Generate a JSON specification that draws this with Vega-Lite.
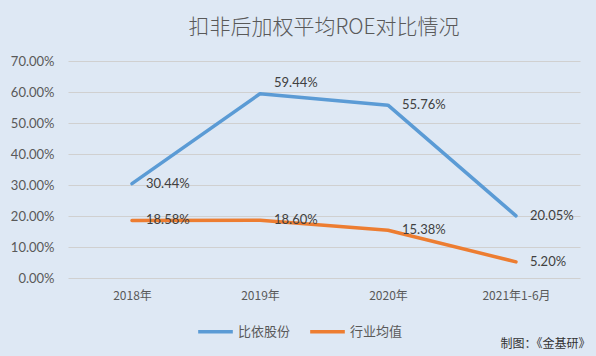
{
  "$schema": "https://vega.github.io/schema/vega-lite/v6.json",
  "autosize": {"type": "none"},
  "width": 512,
  "height": 217,
  "padding": {"left": 68, "top": 61, "right": 16, "bottom": 78},
  "background": "#dee8f4",
  "title": {
    "text": "扣非后加权平均ROE对比情况",
    "font": "Noto Sans CJK SC",
    "fontSize": 21,
    "fontWeight": 300,
    "color": "#595959",
    "anchor": "middle",
    "offset": 17,
    "frame": "group"
  },
  "config": {
    "view": {"stroke": null},
    "font": "Noto Sans CJK SC"
  },
  "data": {
    "values": [
      {"year": "2018年", "series": "比依股份", "roe": 0.3044},
      {"year": "2019年", "series": "比依股份", "roe": 0.5944},
      {"year": "2020年", "series": "比依股份", "roe": 0.5576},
      {"year": "2021年1-6月", "series": "比依股份", "roe": 0.2005},
      {"year": "2018年", "series": "行业均值", "roe": 0.1858},
      {"year": "2019年", "series": "行业均值", "roe": 0.1860},
      {"year": "2020年", "series": "行业均值", "roe": 0.1538},
      {"year": "2021年1-6月", "series": "行业均值", "roe": 0.0520}
    ]
  },
  "encoding": {
    "x": {
      "field": "year",
      "type": "nominal",
      "sort": null,
      "scale": {"paddingInner": 0, "paddingOuter": 0},
      "axis": {
        "title": "制图：《金基研》",
        "titleAnchor": "end",
        "titleAlign": "right",
        "titleFontSize": 12,
        "titleFontWeight": "normal",
        "titleColor": "#333333",
        "titleX": 522,
        "titleY": 60,
        "labelAngle": 0,
        "labelFont": "Noto Sans CJK SC",
        "labelFontSize": 12,
        "labelColor": "#595959",
        "labelPadding": 12,
        "ticks": false,
        "domain": false,
        "grid": false
      }
    },
    "y": {
      "field": "roe",
      "type": "quantitative",
      "scale": {"domain": [0, 0.7]},
      "axis": {
        "title": null,
        "format": ".2%",
        "values": [0, 0.1, 0.2, 0.3, 0.4, 0.5, 0.6, 0.7],
        "labelFont": "Lato",
        "labelFontSize": 13,
        "labelColor": "#595959",
        "labelPadding": 14,
        "ticks": false,
        "domain": false,
        "gridColor": "#d0d0d0",
        "gridWidth": 1
      }
    }
  },
  "layer": [
    {
      "mark": {"type": "line", "interpolate": "linear", "strokeWidth": 3.5, "strokeCap": "round", "strokeJoin": "round"},
      "encoding": {
        "color": {
          "field": "series",
          "type": "nominal",
          "sort": ["比依股份", "行业均值"],
          "scale": {"domain": ["比依股份", "行业均值"], "range": ["#5b9bd5", "#ed7d31"]},
          "legend": {
            "title": null,
            "orient": "none",
            "direction": "horizontal",
            "legendX": 128,
            "legendY": 251,
            "symbolType": "stroke",
            "symbolStrokeWidth": 3.5,
            "symbolSize": 1200,
            "labelFont": "Noto Sans CJK SC",
            "labelFontSize": 13,
            "labelColor": "#595959",
            "labelOffset": 3,
            "columnPadding": 12
          }
        }
      }
    },
    {
      "transform": [{"filter": "datum.roe != 0.5944"}],
      "mark": {"type": "text", "align": "left", "baseline": "middle", "dx": 14, "font": "Lato", "fontSize": 13, "color": "#404040"},
      "encoding": {"text": {"field": "roe", "type": "quantitative", "format": ".2%"}}
    },
    {
      "transform": [{"filter": "datum.roe == 0.5944"}],
      "mark": {"type": "text", "align": "left", "baseline": "middle", "dx": 14, "dy": -11, "font": "Lato", "fontSize": 13, "color": "#404040"},
      "encoding": {"text": {"field": "roe", "type": "quantitative", "format": ".2%"}}
    }
  ]
}
